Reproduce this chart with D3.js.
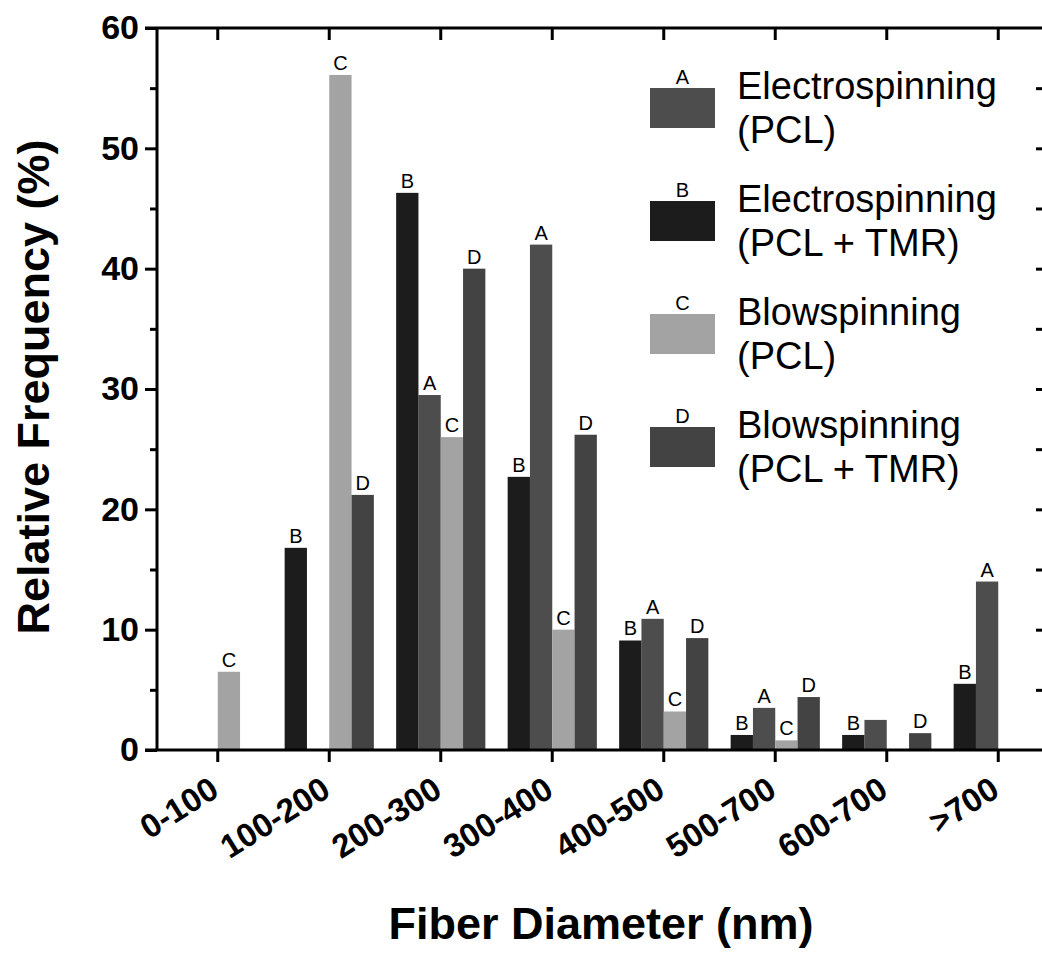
<!DOCTYPE html>
<html>
<head>
<meta charset="utf-8">
<script src="https://cdn.jsdelivr.net/npm/d3@7"></script>
<style>
  body { margin: 0; background: #fff; }
  svg { display: block; font-family: "Liberation Sans", Arial, sans-serif; }
</style>
</head>
<body>
<div id="chart"></div>
<script>
// Fiber diameter bins (labels as printed on the figure)
const categories = ["0-100", "100-200", "200-300", "300-400", "400-500", "500-700", "600-700", ">700"];

// Relative frequency (%) per bin
const electroPCL    = [0, 0, 29.5, 42.0, 10.9, 3.5, 2.5, 14.0];   // A
const electroPCLTMR = [0, 16.8, 46.3, 22.7, 9.1, 1.25, 1.25, 5.5]; // B
const blowPCL       = [6.5, 56.1, 26.0, 10.0, 3.2, 0.8, 0, 0];     // C
const blowPCLTMR    = [0, 21.2, 40.0, 26.2, 9.3, 4.4, 1.4, 0];     // D

const yTicks = [0, 10, 20, 30, 40, 50, 60];
const yMinorTicks = [5, 15, 25, 35, 45, 55];

// bars that carry no letter on the figure
const unlabeled = [["A", "600-700"]];

const series = [
    {key: "A", lines: ["Electrospinning", "(PCL)"], values: electroPCL, color: "#4d4d4d"},
    {key: "B", lines: ["Electrospinning", "(PCL + TMR)"], values: electroPCLTMR, color: "#1c1c1c"},
    {key: "C", lines: ["Blowspinning", "(PCL)"], values: blowPCL, color: "#a3a3a3"},
    {key: "D", lines: ["Blowspinning", "(PCL + TMR)"], values: blowPCLTMR, color: "#434343"}
];
// order of the bars inside each group
const barOrder = ["B", "A", "C", "D"];

const W = 1042, H = 953;
const plotLeft = 157, plotRight = 1047, plotTop = 28, plotBottom = 750;

const svg = d3.select("#chart").append("svg")
    .attr("width", W)
    .attr("height", H);

const x = d3.scaleBand()
    .domain(categories)
    .range([162, 1054])
    .paddingInner(0.2)
    .paddingOuter(0.1);

const xs = d3.scaleBand()
    .domain(barOrder)
    .range([0, x.bandwidth()]);

const y = d3.scaleLinear()
    .domain([0, 60])
    .range([plotBottom, plotTop]);

// Bars
const bars = [];
series.forEach(s => {
    s.values.forEach((v, i) => {
        if (v > 0) bars.push({key: s.key, cat: categories[i], value: v, color: s.color});
    });
});

svg.selectAll(".bar")
    .data(bars)
    .enter()
    .append("rect")
    .attr("class", "bar")
    .attr("x", d => x(d.cat) + xs(d.key))
    .attr("y", d => y(d.value))
    .attr("width", xs.bandwidth())
    .attr("height", d => y(0) - y(d.value))
    .attr("fill", d => d.color);

// Letters above bars
const isHidden = d => unlabeled.some(u => u[0] === d.key && u[1] === d.cat);
svg.selectAll(".barlabel")
    .data(bars.filter(d => !isHidden(d)))
    .enter()
    .append("text")
    .attr("class", "barlabel")
    .attr("x", d => x(d.cat) + xs(d.key) + xs.bandwidth() / 2)
    .attr("y", d => y(d.value) - 5)
    .attr("text-anchor", "middle")
    .style("font-size", "20px")
    .text(d => d.key);

// Left axis, major + minor ticks
const yAxis = svg.append("g")
    .attr("transform", `translate(${plotLeft},0)`)
    .call(d3.axisLeft(y).tickValues(yTicks).tickSize(12).tickPadding(6));
yAxis.select(".domain").remove();
yAxis.selectAll("line").attr("stroke-width", 3);
yAxis.selectAll("text")
    .style("font-size", "34px")
    .style("font-weight", "bold")
    .attr("fill", "#000");

const yMinor = svg.append("g")
    .attr("transform", `translate(${plotLeft},0)`)
    .call(d3.axisLeft(y).tickValues(yMinorTicks).tickSize(7).tickFormat(""));
yMinor.select(".domain").remove();
yMinor.selectAll("line").attr("stroke-width", 3);

// Right axis (ticks only, pointing inward)
const yRight = svg.append("g")
    .attr("transform", `translate(${plotRight},0)`)
    .call(d3.axisLeft(y).tickValues(yMinorTicks.concat([10, 20, 30, 40, 50])).tickSize(11).tickFormat(""));
yRight.select(".domain").remove();
yRight.selectAll("line").attr("stroke-width", 3);

// Bottom axis
const xAxis = svg.append("g")
    .attr("transform", `translate(0,${plotBottom})`)
    .call(d3.axisBottom(x).tickSize(12));
xAxis.select(".domain").remove();
xAxis.selectAll("line").attr("stroke-width", 3);
xAxis.selectAll("text")
    .attr("x", 0)
    .attr("y", 0)
    .attr("dy", 0)
    .attr("text-anchor", "end")
    .attr("transform", "translate(3,45) rotate(-32)")
    .attr("fill", "#000")
    .style("font-size", "33px")
    .style("font-weight", "bold");

// Top axis (ticks pointing down)
const xTop = svg.append("g")
    .attr("transform", `translate(0,${plotTop})`)
    .call(d3.axisBottom(x).tickSize(12).tickFormat(""));
xTop.select(".domain").remove();
xTop.selectAll("line").attr("stroke-width", 3);

// Frame
const frame = svg.append("g").attr("stroke", "#000").attr("stroke-width", 3);
frame.append("line").attr("x1", plotLeft - 12).attr("x2", plotRight).attr("y1", plotTop).attr("y2", plotTop);
frame.append("line").attr("x1", plotLeft - 12).attr("x2", plotRight).attr("y1", plotBottom).attr("y2", plotBottom);
frame.append("line").attr("x1", plotLeft).attr("x2", plotLeft).attr("y1", plotTop).attr("y2", plotBottom);
frame.append("line").attr("x1", plotRight).attr("x2", plotRight).attr("y1", plotTop).attr("y2", plotBottom);

// Axis titles
svg.append("text")
    .attr("transform", "translate(49,387) rotate(-90)")
    .attr("text-anchor", "middle")
    .style("font-size", "45px")
    .style("font-weight", "bold")
    .text("Relative Frequency (%)");

svg.append("text")
    .attr("x", 601)
    .attr("y", 939)
    .attr("text-anchor", "middle")
    .style("font-size", "45px")
    .style("font-weight", "bold")
    .text("Fiber Diameter (nm)");

// Legend
const legend = svg.selectAll(".legend")
    .data(series)
    .enter()
    .append("g")
    .attr("class", "legend")
    .attr("transform", (d, i) => `translate(650,${88 + i * 113})`);

legend.append("rect")
    .attr("width", 65)
    .attr("height", 40)
    .attr("fill", d => d.color);

legend.append("text")
    .attr("x", 32.5)
    .attr("y", -4)
    .attr("text-anchor", "middle")
    .style("font-size", "20px")
    .text(d => d.key);

legend.append("text")
    .attr("x", 87)
    .attr("y", 11)
    .style("font-size", "38px")
    .text(d => d.lines[0]);

legend.append("text")
    .attr("x", 87)
    .attr("y", 55)
    .style("font-size", "38px")
    .text(d => d.lines[1]);
</script>
</body>
</html>
